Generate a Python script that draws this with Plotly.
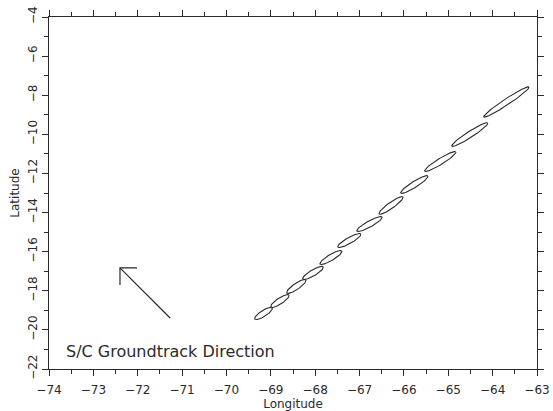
import numpy as np
import plotly.graph_objects as go

# ---- data: ellipse (footprint) endpoints along the groundtrack ----
lon_start = [-69.36, -69.00, -68.64, -68.28, -67.89, -67.49, -67.06, -66.56, -66.07, -65.53, -64.92, -64.20]
lat_start = [-19.44, -18.83, -18.11, -17.40, -16.63, -15.76, -14.94, -14.07, -13.00, -11.88, -10.60, -9.11]
lon_end   = [-68.97, -68.59, -68.21, -67.82, -67.40, -66.97, -66.49, -66.02, -65.46, -64.83, -64.11, -63.18]
lat_end   = [-18.88, -18.22, -17.45, -16.78, -15.97, -15.10, -14.23, -13.20, -12.13, -10.90, -9.42, -7.58]

# arrow showing groundtrack direction
arrow_tail = (-71.27, -19.39)
arrow_tip = (-72.40, -16.83)
label_text = "S/C Groundtrack Direction"
label_pos = (-73.66, -21.08)

x_range = [-74, -63]
y_range = [-22, -4]
x_ticks = list(range(-74, -62))
y_ticks = list(range(-22, -3, 2))

# ---- layout geometry ----
W, H = 553, 411
ml, mr, mt, mb = 49, 16, 17, 42
sx = (W - ml - mr) / (x_range[1] - x_range[0])   # px per degree lon
sy = (H - mt - mb) / (y_range[1] - y_range[0])   # px per degree lat
half_width_px = 3.0
head_px = 17
ink = "#2a2a2a"

fig = go.Figure()

t = np.linspace(0, 2 * np.pi, 90)
for x0, y0, x1, y1 in zip(lon_start, lat_start, lon_end, lat_end):
    cx, cy = (x0 + x1) / 2, (y0 + y1) / 2
    dx, dy = (x1 - x0) / 2, (y1 - y0) / 2
    # perpendicular in screen space
    px, py = dx * sx, dy * sy
    n = np.hypot(px, py)
    ex = (-py / n) * half_width_px / sx
    ey = (px / n) * half_width_px / sy
    xs = cx + dx * np.cos(t) + ex * np.sin(t)
    ys = cy + dy * np.cos(t) + ey * np.sin(t)
    fig.add_trace(go.Scatter(x=xs, y=ys, mode="lines",
                             line=dict(color=ink, width=1.1),
                             hoverinfo="skip", showlegend=False))

# arrow shaft and head
tx, ty = arrow_tip
fig.add_trace(go.Scatter(
    x=[arrow_tail[0], tx, None, tx + head_px / sx, tx, tx],
    y=[arrow_tail[1], ty, None, ty, ty, ty - head_px / sy],
    mode="lines", line=dict(color=ink, width=1.2),
    hoverinfo="skip", showlegend=False))

fig.add_annotation(x=label_pos[0], y=label_pos[1], text=label_text,
                   showarrow=False, xanchor="left", yanchor="middle",
                   font=dict(family="DejaVu Sans", size=16, color=ink))

axis_common = dict(showgrid=False, zeroline=False, showline=True,
                   linecolor=ink, linewidth=1, mirror="allticks",
                   ticks="outside", ticklen=6, tickcolor=ink, tickwidth=1,
                   automargin=False,
                   tickfont=dict(family="DejaVu Sans", size=12, color=ink))

fig.update_xaxes(range=x_range, tickvals=x_ticks,
                 ticktext=[f"\u2212{abs(v)}" for v in x_ticks],
                 ticklabelstandoff=4,
                 minor=dict(dtick=0.5, ticks="outside", ticklen=4, tickcolor=ink),
                 title=dict(text="Longitude", standoff=2,
                            font=dict(family="DejaVu Sans", size=12, color=ink)),
                 **axis_common)
fig.update_yaxes(range=y_range, tickvals=y_ticks,
                 ticktext=[f"\u2212{abs(v)}" for v in y_ticks],
                 tickangle=-90,
                 minor=dict(dtick=1, ticks="outside", ticklen=4, tickcolor=ink),
                 title=dict(text="Latitude", standoff=4,
                            font=dict(family="DejaVu Sans", size=12, color=ink)),
                 **axis_common)

fig.update_layout(width=W, height=H,
                  margin=dict(l=ml, r=mr, t=mt, b=mb),
                  plot_bgcolor="white", paper_bgcolor="white")

fig.write_html("out.html", config={"displayModeBar": False},
               post_script="document.body.style.margin='0';document.body.style.overflow='hidden';")
